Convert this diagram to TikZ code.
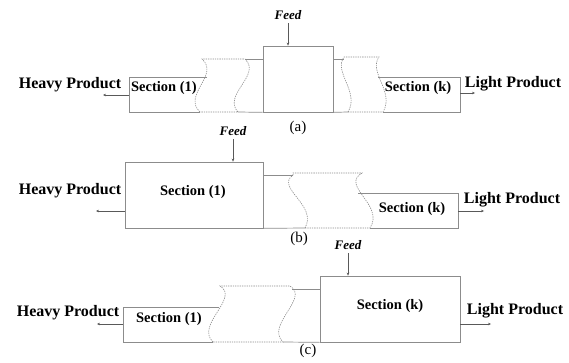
\documentclass[tikz,border=0pt]{standalone}
\usepackage{fontspec}
\setmainfont{Liberation Serif}
\usetikzlibrary{arrows.meta}

\begin{document}
\begin{tikzpicture}
  [x=1pt,y=-1pt,
   box/.style={draw=black!45,line width=0.7pt},
   brk/.style={draw=black!45,line width=0.6pt,dash pattern=on 1.3pt off 1pt},
   arr/.style={draw=black!65,line width=0.6pt,-{Stealth[length=3pt,width=2.6pt]}},
   prod/.style={font=\fontsize{16}{18}\selectfont\bfseries},
   sec/.style={font=\fontsize{14.5}{17}\selectfont\bfseries},
   feed/.style={font=\fontsize{13}{15}\selectfont\bfseries\itshape},
   sublbl/.style={font=\fontsize{15}{17}\selectfont}]
  \useasboundingbox (0,0) rectangle (569,363);

  % (a) feed in the middle
  \node[box,minimum width=70pt,minimum height=66pt,inner sep=0pt] (ca) at (298,79) {};
  \coordinate (la1) at (129,77);
  \coordinate (la2) at (129,112);
  \coordinate (ra1) at (460,77);
  \coordinate (ra2) at (460,112);
  \draw[box] (207,77) -- (la1) -- (la2) -- (200,112);
  \draw[box] (238,112) -- (ca.south west);
  \draw[box] (245,59) -- (263,59);
  \draw[box] (333,59) -- (344,59);
  \draw[box] (ca.south east) -- (348,112);
  \draw[box] (383,112) -- (ra2) -- (ra1) -- (378,77);
  \draw[brk] (200,112) .. controls (182,95) and (220,75) .. (202,59) -- (245,59)
    .. controls (262,75) and (222,95) .. (238,112) -- cycle;
  \draw[brk] (348,112) .. controls (360,92) and (333,72) .. (344,57) -- (379,57)
    .. controls (368,72) and (395,92) .. (383,112) -- cycle;
  \node[feed] (fa) at (288,15) {Feed};
  \node[prod] (ha) at (70,85) {Heavy Product};
  \node[sec] (s1a) at (164,88) {Section (1)};
  \node[sec] (ska) at (418,88) {Section (k)};
  \node[prod] (lpa) at (513,84) {Light Product};
  \node[sublbl] (cpa) at (298,128) {(a)};
  \coordinate (hae) at (103,95);
  \coordinate (lae) at (475,93);
  \draw[arr] (fa.south) -- (fa.south |- ca.north);
  \draw[arr] (hae -| la1) -- (hae);
  \draw[arr] (lae -| ra1) -- (lae);

  % (b) feed on section (1)
  \node[box,minimum width=138pt,minimum height=66pt,inner sep=0pt] (s1bx) at (194,195) {};
  \coordinate (rb1) at (458,193);
  \coordinate (rb2) at (458,228);
  \draw[box] (263,175) -- (293,175);
  \draw[box] (s1bx.south east) -- (305,228);
  \draw[box] (370,228) -- (rb2) -- (rb1) -- (358,193);
  \draw[brk] (305,228) .. controls (318,205) and (275,188) .. (293,175) -- (293,173) -- (362,173)
    .. controls (340,186) and (385,205) .. (370,228) -- cycle;
  \node[feed] (fb) at (233,131) {Feed};
  \node[prod] (hb) at (70,191) {Heavy Product};
  \node[sec] (s1b) at (193,192) {Section (1)};
  \node[sec] (skb) at (412,209) {Section (k)};
  \node[prod] (lpb) at (512,200) {Light Product};
  \node[sublbl] (cpb) at (299,239) {(b)};
  \coordinate (hbe) at (96,211);
  \coordinate (lbe) at (484,211);
  \draw[arr] (fb.south) -- (fb.south |- s1bx.north);
  \draw[arr] (hbe -| s1bx.west) -- (hbe);
  \draw[arr] (lbe -| rb1) -- (lbe);

  % (c) feed on section (k)
  \node[box,minimum width=140pt,minimum height=66pt,inner sep=0pt] (skcx) at (390,309) {};
  \coordinate (lc1) at (123,307);
  \coordinate (lc2) at (123,342);
  \draw[box] (219,307) -- (lc1) -- (lc2) -- (213,342);
  \draw[box] (292,289) -- (320,289);
  \draw[box] (283,342) -- (skcx.south west);
  \draw[brk] (213,342) .. controls (195,325) and (240,298) .. (220,286) -- (290,286)
    .. controls (310,298) and (265,325) .. (283,342) -- cycle;
  \node[feed] (fc) at (348,245) {Feed};
  \node[prod] (hc) at (68,313) {Heavy Product};
  \node[sec] (s1c) at (169,319) {Section (1)};
  \node[sec] (skc) at (390,306) {Section (k)};
  \node[prod] (lpc) at (515,311) {Light Product};
  \node[sublbl] (cpc) at (308,351) {(c)};
  \coordinate (hce) at (97,324);
  \coordinate (lce) at (491,324);
  \draw[arr] (fc.south) -- (fc.south |- skcx.north);
  \draw[arr] (hce -| lc1) -- (hce);
  \draw[arr] (lce -| skcx.east) -- (lce);
\end{tikzpicture}
\end{document}
